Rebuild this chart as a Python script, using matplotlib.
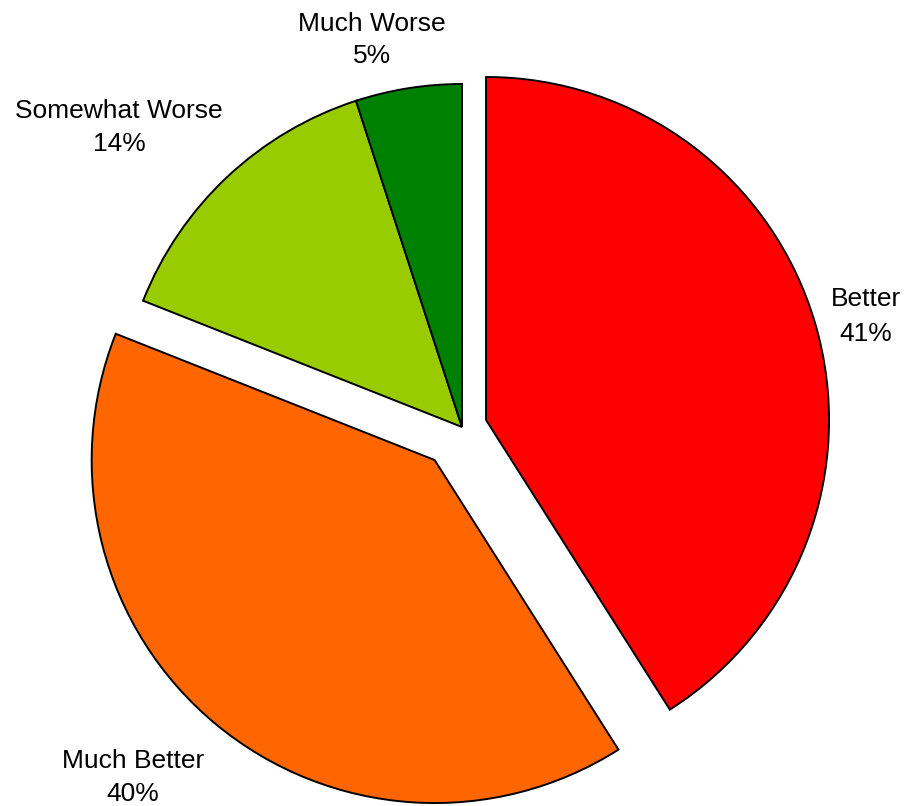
import matplotlib
matplotlib.use("Agg")
import matplotlib.pyplot as plt

categories = ["Better", "Much Better", "Somewhat Worse", "Much Worse"]
values = [41, 40, 14, 5]
pct_labels = ["41%", "40%", "14%", "5%"]
colors = ["#FF0000", "#FF6600", "#99CC00", "#008000"]
explode = [0.073, 0.125, 0.0, 0.0]

plt.rcParams['font.family'] = ['Liberation Sans', 'DejaVu Sans']

W, H = 909, 806
fig = plt.figure(figsize=(W / 100, H / 100), dpi=100)
ax = fig.add_axes([0, 0, 1, 1])

cx, cy, R = 462, 427, 343

ax.pie(values, colors=colors, explode=explode, startangle=90, counterclock=False,
       radius=1.0, wedgeprops=dict(edgecolor="black", linewidth=1.4))

ax.set_xlim(-cx / R, (W - cx) / R)
ax.set_ylim(-(H - cy) / R, cy / R)
ax.set_aspect('equal', adjustable='datalim')
ax.axis('off')

def px(x, y):
    return (x - cx) / R, (cy - y) / R

# label positions in pixels: (center x, baseline of name, baseline of percent)
label_pos = {
    "Better": (866, 306, 341),
    "Much Better": (133, 768, 801),
    "Somewhat Worse": (119, 118, 151),
    "Much Worse": (372, 31, 63),
}
for name, pct in zip(categories, pct_labels):
    x, y1, y2 = label_pos[name]
    ax.text(*px(x, y1), name, ha='center', va='baseline', fontsize=19, color='black')
    ax.text(*px(x, y2), pct, ha='center', va='baseline', fontsize=19, color='black')

fig.savefig("out.png", dpi=100)
